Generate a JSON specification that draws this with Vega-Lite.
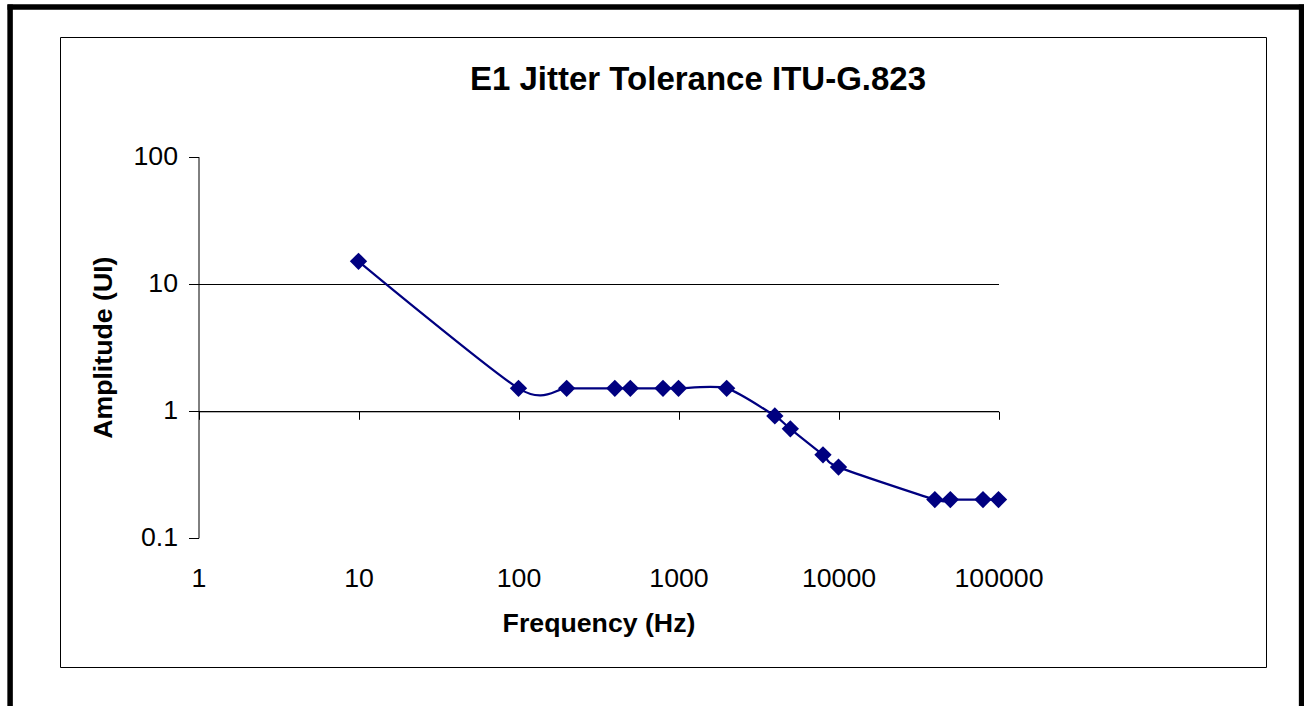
{
  "$schema": "https://vega.github.io/schema/vega-lite/v6.json",
  "width": 1206,
  "height": 630,
  "autosize": {"type": "none"},
  "padding": {"left": 60, "top": 37, "right": 38, "bottom": 39},
  "background": "white",
  "config": {
    "view": {"stroke": "black", "strokeWidth": 1},
    "font": "Liberation Sans"
  },
  "title": {
    "text": "E1 Jitter Tolerance ITU-G.823",
    "font": "Liberation Sans",
    "fontSize": 33,
    "fontWeight": "bold",
    "color": "black",
    "anchor": "middle",
    "frame": "group",
    "offset": 0,
    "dx": 35,
    "dy": 90
  },
  "datasets": {
    "pts": [
      {"f": 10, "a": 15},
      {"f": 100, "a": 1.5},
      {"f": 200, "a": 1.5},
      {"f": 400, "a": 1.5},
      {"f": 500, "a": 1.5},
      {"f": 800, "a": 1.5},
      {"f": 1000, "a": 1.5},
      {"f": 2000, "a": 1.5},
      {"f": 4000, "a": 0.91},
      {"f": 5000, "a": 0.72},
      {"f": 8000, "a": 0.45},
      {"f": 10000, "a": 0.36},
      {"f": 40000, "a": 0.2},
      {"f": 50000, "a": 0.2},
      {"f": 80000, "a": 0.2},
      {"f": 100000, "a": 0.2}
    ]
  },
  "data": {"name": "pts"},
  "layer": [
    {
      "mark": {"type": "line", "interpolate": "cardinal", "tension": 0.25, "color": "#000080", "strokeWidth": 2.2},
      "encoding": {
        "x": {
          "field": "f", "type": "quantitative",
          "scale": {"type": "log", "domain": [1, 100000], "range": [138.5, 938.5], "nice": false},
          "axis": {
            "orient": "bottom", "offset": -255.7,
            "values": [1, 10, 100, 1000, 10000, 100000],
            "labels": false, "ticks": true, "tickSize": 8, "tickColor": "black", "tickWidth": 1,
            "domain": true, "domainColor": "black", "domainWidth": 1,
            "grid": false, "title": null
          }
        },
        "y": {
          "field": "a", "type": "quantitative",
          "scale": {"type": "log", "domain": [0.1, 100], "range": [500.8, 119.6], "nice": false},
          "axis": null
        }
      }
    },
    {
      "mark": {"type": "point", "shape": "diamond", "filled": true, "size": 300, "color": "#000080", "opacity": 1},
      "encoding": {
        "x": {
          "field": "f", "type": "quantitative",
          "scale": {"type": "log", "domain": [1, 100000], "range": [138.5, 938.5], "nice": false},
          "axis": {
            "orient": "bottom", "offset": -101.6,
            "values": [1, 10, 100, 1000, 10000, 100000],
            "format": "~g",
            "labelFlush": false, "labelOverlap": false,
            "domain": false, "ticks": false, "tickSize": 0, "grid": false,
            "labelFont": "Liberation Sans", "labelFontSize": 26.7, "labelColor": "black", "labelPadding": 0,
            "title": "Frequency (Hz)",
            "titleFont": "Liberation Sans", "titleFontSize": 26.7, "titleFontWeight": "bold", "titleColor": "black",
            "titlePadding": 18
          }
        },
        "y": {
          "field": "a", "type": "quantitative",
          "scale": {"type": "log", "domain": [0.1, 100], "range": [500.8, 119.6], "nice": false},
          "axis": {
            "orient": "left", "offset": -138.5,
            "values": [0.1, 1, 10, 100],
            "format": "~g",
            "labelFlush": false, "labelOverlap": false,
            "tickSize": 10, "tickColor": "black", "tickWidth": 1,
            "domain": true, "domainColor": "black", "domainWidth": 1,
            "labelFont": "Liberation Sans", "labelFontSize": 26.7, "labelColor": "black", "labelPadding": 11,
            "grid": true, "gridColor": "black", "gridWidth": 1,
            "gridOpacity": {"condition": {"test": "datum.value === 1 || datum.value === 10", "value": 1}, "value": 0},
            "title": "Amplitude (UI)",
            "titleFont": "Liberation Sans", "titleFontSize": 26.7, "titleFontWeight": "bold", "titleColor": "black",
            "titlePadding": 15
          }
        }
      }
    },
    {
      "mark": {"type": "point", "opacity": 0},
      "encoding": {
        "x": {
          "field": "f", "type": "quantitative",
          "scale": {"domain": [0, 100000], "range": [-53, 1247], "nice": false, "zero": false},
          "axis": {
            "orient": "top", "offset": 30.5,
            "domain": true, "domainColor": "black", "domainWidth": 5.5,
            "ticks": false, "labels": false, "grid": false, "title": null
          }
        },
        "y": {
          "field": "a", "type": "quantitative",
          "scale": {"domain": [0, 20], "range": [700, -33], "nice": false, "zero": false},
          "axis": {
            "orient": "left", "offset": 50.4,
            "domain": true, "domainColor": "black", "domainWidth": 5.5,
            "ticks": false, "labels": false, "grid": false, "title": null
          }
        }
      }
    },
    {
      "mark": {"type": "point", "opacity": 0},
      "encoding": {
        "y": {
          "field": "a", "type": "quantitative",
          "scale": {"domain": [0, 20], "range": [700, -33], "nice": false, "zero": false},
          "axis": {
            "orient": "right", "offset": 35.2,
            "domain": true, "domainColor": "black", "domainWidth": 5.7,
            "ticks": false, "labels": false, "grid": false, "title": null
          }
        }
      }
    }
  ],
  "resolve": {
    "scale": {"x": "independent", "y": "independent"},
    "axis": {"x": "independent", "y": "independent"}
  }
}
